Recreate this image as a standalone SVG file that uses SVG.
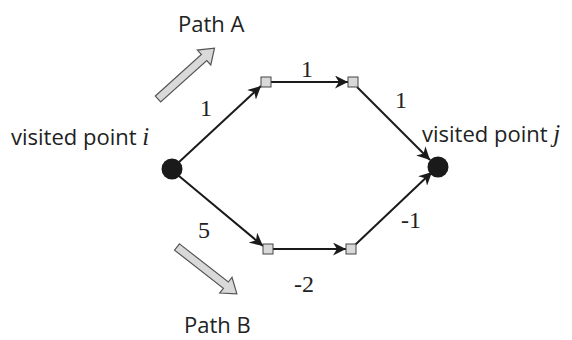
<svg xmlns="http://www.w3.org/2000/svg" width="572" height="340" viewBox="0 0 572 340">
<defs>
<marker id="ah" viewBox="0 0 10 10" refX="10" refY="5" markerWidth="13" markerHeight="13" markerUnits="userSpaceOnUse" orient="auto">
<path d="M0,0 L10,5 L0,10 L3,5 Z" fill="#1a1a1a"/>
</marker>
</defs>
<style>
.lbl{font-family:"Open Sans","Liberation Sans",sans-serif;font-size:22px;fill:#222}
.num{font-family:"Liberation Serif",serif;font-size:24px;fill:#222}
.edge{stroke:#1a1a1a;stroke-width:2;fill:none;marker-end:url(#ah)}
.sq{fill:#d9d9d9;stroke:#444;stroke-width:1}
.pt{fill:#1a1a1a}
.fat{fill:#d9d9d9;stroke:#555;stroke-width:1.2}
</style>
<g id="connectors">
<line class="edge" x1="178" y1="163" x2="261" y2="86"/>
<line class="edge" x1="271" y1="82" x2="348" y2="82"/>
<line class="edge" x1="357" y1="87" x2="430" y2="160"/>
<line class="edge" x1="179" y1="176" x2="263" y2="246"/>
<line class="edge" x1="273" y1="249" x2="346" y2="249"/>
<line class="edge" x1="355" y1="245" x2="432" y2="172"/>
</g>
<g id="node-i"><circle class="pt" cx="172" cy="169" r="10.5"/><text class="lbl" x="11" y="145">visited point <tspan font-style="italic" font-family="Liberation Serif,serif" font-size="25">i</tspan></text></g>
<g id="node-j"><circle class="pt" cx="438" cy="167" r="10.5"/><text class="lbl" x="422" y="142">visited point <tspan font-style="italic" font-family="Liberation Serif,serif" font-size="25">j</tspan></text></g>
<g id="node-a1"><rect class="sq" x="261" y="77" width="10" height="10"/></g>
<g id="node-a2"><rect class="sq" x="348" y="77" width="10" height="10"/></g>
<g id="node-b1"><rect class="sq" x="263" y="244" width="10" height="10"/></g>
<g id="node-b2"><rect class="sq" x="346" y="244" width="10" height="10"/></g>
<g id="edge-labels">
<text class="num" x="200" y="116">1</text>
<text class="num" x="301" y="77">1</text>
<text class="num" x="395" y="108">1</text>
<text class="num" x="198" y="238">5</text>
<text class="num" x="294" y="292">-2</text>
<text class="num" x="401" y="228">-1</text>
</g>
<g id="path-a">
<text class="lbl" x="178" y="32">Path A</text>
<polygon class="fat" transform="translate(158,99) rotate(-42)" points="0,-4 62,-4 62,-10 76,0 62,10 62,4 0,4"/>
</g>
<g id="path-b">
<text class="lbl" x="184" y="333">Path B</text>
<polygon class="fat" transform="translate(177,247) rotate(38)" points="0,-4 62,-4 62,-10 76,0 62,10 62,4 0,4"/>
</g>
</svg>
